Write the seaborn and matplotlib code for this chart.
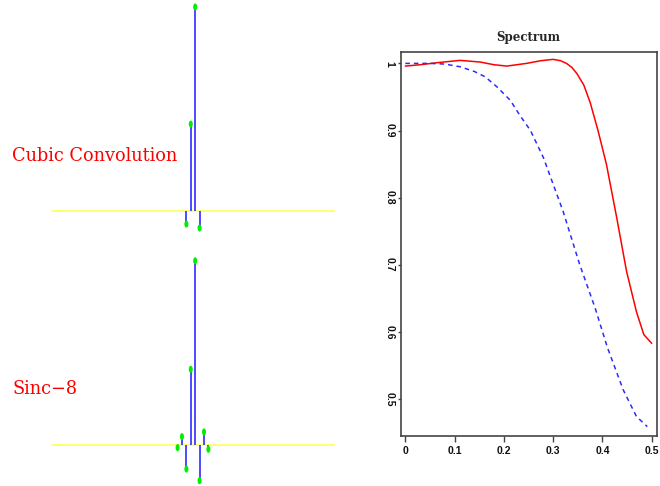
import numpy as np
import pandas as pd
import matplotlib
matplotlib.use("Agg")
import matplotlib.pyplot as plt
from matplotlib.path import Path
import seaborn as sns

# Interpolation weights (sample offset relative to the output point, weight)
cubic_lags = [-2, -1, 0, 1]
cubic_weights = [-0.064, 0.426, 1.0, -0.083]

sinc_lags = [-4, -3, -2, -1, 0, 1, 2, 3]
sinc_weights = [-0.013, 0.041, -0.118, 0.371, 0.903, -0.175, 0.064, -0.021]

# Extent of the zero trace on which the weights are drawn
trace_extent = [-32.5, 31.5]

# Amplitude spectra of the two interpolators
freq_sinc8 = [0.0, 0.03, 0.064, 0.111, 0.152, 0.18, 0.206, 0.246, 0.275, 0.300,
              0.315, 0.327, 0.338, 0.348, 0.362, 0.375, 0.391, 0.408, 0.429,
              0.449, 0.469, 0.484, 0.500]
resp_sinc8 = [0.996, 0.998, 1.001, 1.0045, 1.002, 0.998, 0.996, 1.000, 1.004, 1.006,
              1.004, 1.000, 0.994, 0.985, 0.968, 0.942, 0.900, 0.850, 0.770,
              0.690, 0.630, 0.596, 0.583]

freq_cubic = [0.0, 0.05, 0.08, 0.111, 0.14, 0.162, 0.186, 0.213, 0.233, 0.254,
              0.280, 0.300, 0.320, 0.354, 0.385, 0.410, 0.442, 0.469, 0.491]
resp_cubic = [1.000, 1.000, 0.999, 0.995, 0.988, 0.980, 0.965, 0.945, 0.922, 0.900,
              0.860, 0.820, 0.780, 0.700, 0.636, 0.577, 0.514, 0.474, 0.459]

x_ticks = [0, 0.1, 0.2, 0.3, 0.4, 0.5]
x_tick_labels = ["0", "0.1", "0.2", "0.3", "0.4", "0.5"]
y_ticks = [0.5, 0.6, 0.7, 0.8, 0.9, 1.0]
y_tick_labels = ["0.5", "0.6", "0.7", "0.8", "0.9", "1"]

sns.set_theme(style="white")
plt.rcParams["font.family"] = ["DejaVu Sans"]

fig = plt.figure(figsize=(6.6, 4.86), dpi=100)

# Tall elliptical marker for the sample tips
t = np.linspace(0, 2 * np.pi, 41)
ellipse = Path(np.column_stack([0.57 * np.cos(t), np.sin(t)]))


def draw_weights(ax, lags, weights, ylim):
    sns.lineplot(x=trace_extent, y=[0, 0], color="#ffff70", lw=1.4,
                 estimator=None, ax=ax, zorder=1)
    ax.vlines(lags, 0, weights, color="#1a1aff", lw=1.1, zorder=2)
    df = pd.DataFrame({"lag": lags, "w": weights})
    sns.scatterplot(data=df, x="lag", y="w", marker=ellipse, s=26,
                    color="#00ee00", edgecolor="none", ax=ax, zorder=3)
    ax.set_xlim(-35.27, 34.05)
    ax.set_ylim(*ylim)
    ax.set_axis_off()


ax_top = fig.add_axes([0.0606, 1 - 235 / 486, 0.4621, 235 / 486])
draw_weights(ax_top, cubic_lags, cubic_weights, (-0.1176, 1.0343))

ax_bot = fig.add_axes([0.0606, 0.0, 0.4621, 246 / 486])
draw_weights(ax_bot, sinc_lags, sinc_weights, (-0.201, 1.005))

label_style = dict(color="red", fontfamily="DejaVu Serif", fontsize=12.8,
                   va="center", ha="left")
fig.text(12 / 660, 1 - 156 / 486, "Cubic Convolution", **label_style)
fig.text(12 / 660, 1 - 389 / 486, "Sinc\u22128", **label_style)

# Spectrum panel
ax = fig.add_axes([0.6071, 0.1029, 0.3879, 0.7907])
sns.lineplot(x=freq_sinc8, y=resp_sinc8, color="red", lw=1.1,
             estimator=None, ax=ax)
sns.lineplot(x=freq_cubic, y=resp_cubic, color="#2b2bff", lw=1.1,
             linestyle=(0, (3, 2.6)), estimator=None, ax=ax)
ax.set_xlim(-0.0094, 0.5101)
ax.set_ylim(0.445, 1.0174)
ax.set_xlabel("")
ax.set_ylabel("")
ax.set_title("Spectrum", fontfamily="DejaVu Serif", fontweight="bold",
             fontsize=8.5, pad=7.5)

for sp in ax.spines.values():
    sp.set_color("#444444")
    sp.set_linewidth(1.2)

ax.set_xticks(x_ticks)
ax.set_xticklabels(x_tick_labels, fontfamily="Liberation Sans",
                   fontweight="bold", fontsize=7.5)
ax.set_yticks(y_ticks)
ax.set_yticklabels(y_tick_labels, fontfamily="Liberation Sans",
                   fontweight="bold", fontsize=7.5, rotation=-90, va="center")
ax.tick_params(axis="x", bottom=True, direction="out", length=4, width=1,
               color="#444444", pad=3.5, labelcolor="#111111")
ax.tick_params(axis="y", left=True, direction="out", length=2.5, width=1,
               color="#444444", pad=2, labelcolor="#111111")

fig.savefig("out.png", dpi=100)
